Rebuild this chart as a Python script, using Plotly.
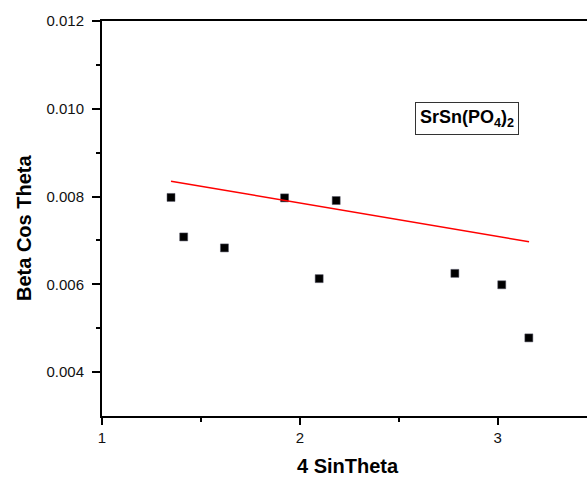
import plotly.graph_objects as go

# Williamson-Hall data
sin_theta = [1.349, 1.413, 1.619, 1.923, 2.098, 2.184, 2.784, 3.021, 3.158]
beta_cos = [0.00798, 0.00708, 0.00683, 0.00797, 0.00613, 0.00791, 0.00625, 0.00599, 0.00478]

# linear fit line end points
fit_x = [1.349, 3.159]
fit_y = [0.00835, 0.00697]

font = "Liberation Sans, Arial, sans-serif"

fig = go.Figure()
fig.add_trace(go.Scatter(x=sin_theta, y=beta_cos, mode="markers",
                         marker=dict(symbol="square", size=8, color="black",
                                     line=dict(color="#556", width=0.5)),
                         showlegend=False))
fig.add_trace(go.Scatter(x=fit_x, y=fit_y, mode="lines",
                         line=dict(color="red", width=1.5), showlegend=False))

fig.add_annotation(x=2.846, y=0.00977, xref="x", yref="y",
                   text="<b>SrSn(PO<sub>4</sub>)<sub>2</sub></b>", showarrow=False,
                   font=dict(family=font, size=18, color="black"),
                   bordercolor="#333", borderwidth=1, borderpad=4, bgcolor="white")

# axis titles placed as annotations
fig.add_annotation(x=-0.162, y=0.477, xref="paper", yref="paper",
                   xanchor="center", yanchor="middle",
                   text="<b>Beta Cos Theta</b>", textangle=-90, showarrow=False,
                   font=dict(family=font, size=20, color="black"))
fig.add_annotation(x=0.508, y=-0.127, xref="paper", yref="paper",
                   xanchor="center", yanchor="middle",
                   text="<b>4 SinTheta</b>", showarrow=False,
                   font=dict(family=font, size=20, color="black"))

fig.update_layout(
    width=587, height=477,
    margin=dict(l=102, r=0, t=21, b=61),
    plot_bgcolor="white", paper_bgcolor="white",
    font=dict(family=font, size=15, color="#111"),
    xaxis=dict(range=[1, 3.452], tickvals=[1, 2, 3], ticks="outside", ticklen=7,
               tickwidth=1.5, tickcolor="black", showline=True, linecolor="black",
               linewidth=2, mirror=True, showgrid=False, zeroline=False,
               minor=dict(tickvals=[1.5, 2.5], ticks="outside", ticklen=4,
                          tickwidth=1.5, tickcolor="black")),
    yaxis=dict(range=[0.003, 0.012], tickvals=[0.004, 0.006, 0.008, 0.010, 0.012],
               ticktext=["0.004", "0.006", "0.008", "0.010", "0.012"],
               ticks="outside", ticklen=8, tickwidth=1.5, tickcolor="black",
               ticklabelstandoff=5,
               showline=True, linecolor="black", linewidth=2, showgrid=False,
               zeroline=False,
               minor=dict(tickvals=[0.005, 0.007, 0.009, 0.011], ticks="outside",
                          ticklen=4, tickwidth=1.5, tickcolor="black")),
)

# drop the default page margin so the figure sits at the window's corner
fig.write_html("out.html", config={"displayModeBar": False},
               post_script="document.body.style.margin='0';document.body.style.overflow='hidden';")
